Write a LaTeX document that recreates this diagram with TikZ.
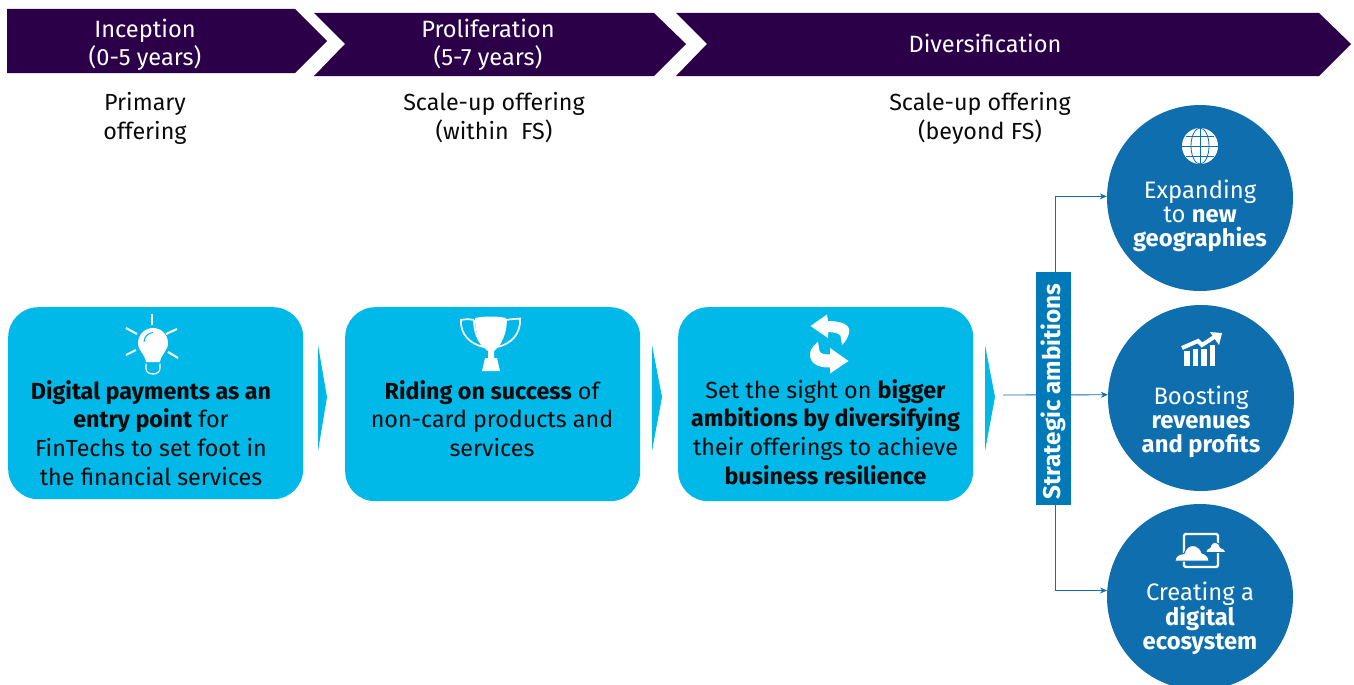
\documentclass[tikz,border=0pt]{standalone}
\usepackage{fontspec}
\setmainfont{Fira Sans}
\usetikzlibrary{arrows.meta}
\definecolor{purp}{HTML}{2B0049}
\definecolor{cyanb}{HTML}{00B9E9}
\definecolor{blueb}{HTML}{0F6FAE}
\definecolor{stratb}{HTML}{0079B8}
\definecolor{inkk}{HTML}{0A0A0A}
\tikzset{
  chev/.style={fill=purp,draw=none},
  hdr/.style={text=white,align=center,font=\fontsize{23.6}{28}\selectfont,inner sep=0pt},
  sub/.style={text=inkk,align=center,font=\fontsize{23.3}{29}\selectfont,inner sep=0pt},
  boxx/.style={fill=cyanb,rounded corners=30pt,minimum width=295pt,inner sep=0pt,anchor=north west},
  boxtxt/.style={text=inkk,align=center,font=\fontsize{23.3}{28.8}\selectfont,inner sep=0pt},
  tri/.style={fill=cyanb,draw=none},
  circ/.style={circle,fill=blueb,minimum size=186pt,inner sep=0pt},
  circtxt/.style={text=white,align=center,font=\fontsize{23.8}{24}\selectfont,inner sep=0pt},
  conn/.style={draw=blueb,line width=0.9pt},
  connar/.style={conn,-{Stealth[length=7pt,width=6pt]}},
  ray/.style={draw=white,line width=2pt},
  iconw/.style={fill=white,draw=none}
}
\begin{document}
\begin{tikzpicture}[x=1pt,y=-1pt]
\useasboundingbox (0,0) rectangle (1354,685);
% header chevrons
\fill[chev] (7,9) -- (295,9) -- (327,41) -- (295,73) -- (7,73) -- cycle;
\fill[chev] (314,13) -- (654,13) -- (686,44) -- (654,76) -- (314,76) -- (345,44) -- cycle;
\fill[chev] (676,13) -- (1319,13) -- (1351,44) -- (1319,76) -- (676,76) -- (707,44) -- cycle;
\node[hdr] (h1) at (145,44.5) {Inception\\(0-5 years)};
\node[hdr] (h2) at (488,44.5) {Proliferation\\(5-7 years)};
\node[hdr] (h3) at (985,43) {Diversification};
\node[sub] (s1) at (145,118) {Primary\\offering};
\node[sub] (s2) at (494,118) {Scale-up offering\\(within\ \ FS)};
\node[sub] (s3) at (980,118) {Scale-up offering\\(beyond FS)};
% stage boxes
\node[boxx,minimum height=192pt] (b1) at (8,307) {};
\node[boxx,minimum height=194pt] (b2) at (345,307) {};
\node[boxx,minimum height=194pt] (b3) at (678,307) {};
\node[boxtxt] (t1) at (151,433) {\textbf{Digital payments as an}\\\textbf{entry point} for\\FinTechs to set foot in\\the financial services};
\node[boxtxt] (t2) at (492,418.5) {\textbf{Riding on success} of\\non-card products and\\services};
\node[boxtxt] (t3) at (825.5,432) {Set the sight on \textbf{bigger}\\\textbf{ambitions by diversifying}\\their offerings to achieve\\\textbf{business resilience}};
% small triangles
\fill[tri] (318,345) -- (327,397) -- (318,451) -- cycle;
\fill[tri] (652,345) -- (662,397) -- (652,451) -- cycle;
\fill[tri] (985,345) -- (995,397) -- (985,451) -- cycle;
% circles
\node[circ] (c1) at (1200,198) {};
\node[circ] (c2) at (1201,398) {};
\node[circ] (c3) at (1200,597) {};
\node[circtxt] (ct1) at (1200,216) {Expanding\\to \textbf{new}\\\textbf{geographies}};
\node[circtxt] (ct2) at (1201,421.5) {Boosting\\\textbf{revenues}\\\textbf{and profits}};
\node[circtxt] (ct3) at (1200,618.5) {Creating a\\\textbf{digital}\\\textbf{ecosystem}};
% connectors
\coordinate (start) at (1003,395);
\draw[connar] (start) -- (c2.178);
\node[fill=stratb,minimum width=35pt,minimum height=233pt,inner sep=0pt] (strat) at (1053.5,388.5) {};
\node[rotate=90,text=white,font=\fontsize{24.2}{24}\selectfont\bfseries,inner sep=0pt] (stratt) at (1053.5,391.5) {Strategic ambitions};
\draw[connar] (strat.north) ++(1.5,0) |- (c1.179.4);
\draw[connar] (strat.south) ++(1.5,0) |- (c3.176);
% bulb icon
\draw[ray] (151.5,313.5) -- (151.5,325);
\draw[ray] (126,328) -- (137,334);
\draw[ray] (177,329) -- (166,334);
\draw[ray] (126,355) -- (136,350);
\draw[ray] (178,358) -- (168,352);
\fill[iconw] (138,343) arc[start angle=180,end angle=360,radius=15] .. controls (168,351) and (161,354) .. (160,362) -- (146,362) .. controls (145,354) and (138,351) .. (138,343) -- cycle;
\draw[white,line width=1.2pt] (146,363.5) -- (146,368) .. controls (146,372) and (149,374) .. (153,374) .. controls (157,374) and (160,372) .. (160,368) -- (160,363.5);
\draw[cyanb,line width=1pt] (144,342) .. controls (144,337) and (148,333) .. (153,332.5);
% trophy icon
\fill[iconw] (475,318) .. controls (485,316) and (497,316) .. (506,318) .. controls (506,333) and (501,346) .. (494,351) -- (494,358) -- (497,358) -- (500,371) -- (482,371) -- (485,358) -- (488,358) -- (488,351) .. controls (480,346) and (475,333) .. (475,318) -- cycle;
\draw[white,line width=1.7pt] (474,320) .. controls (470,319) and (465,319) .. (461,320) .. controls (460,333) and (469,344) .. (484,347);
\draw[white,line width=1.7pt] (474,320) .. controls (474,330) and (477,340) .. (484,347);
\draw[white,line width=1.7pt] (506,320) .. controls (511,319) and (516,319) .. (520,318.5) .. controls (521,333) and (512,344) .. (497,347);
\draw[white,line width=1.7pt] (506,320) .. controls (506,330) and (503,340) .. (497,347);
% refresh icon
\fill[iconw] (810.5,326) -- (827,314.5) -- (828,321) .. controls (842,321) and (851,325) .. (849,333) .. controls (848,338) and (845,342) .. (842,345) -- (840.5,336) .. controls (839,333) and (835,332.5) .. (828,332) -- (828,338) -- cycle;
\fill[iconw] (848.5,361) -- (830,373.5) -- (830,367.5) .. controls (818,368) and (809,363) .. (810,353) .. controls (811,348) and (815,344) .. (818,342) -- (819.5,351) .. controls (820.5,354) and (825,354.5) .. (830,354.5) -- (830,348) -- cycle;
% globe icon
\fill[iconw] (1200,146) circle[radius=18];
\draw[blueb,line width=0.8pt] (1200,128) -- (1200,164);
\draw[blueb,line width=0.8pt] (1200,146) ellipse[x radius=9,y radius=18];
\draw[blueb,line width=0.8pt] (1182,146) -- (1218,146);
\draw[blueb,line width=0.8pt] (1186,136) -- (1214,136);
\draw[blueb,line width=0.8pt] (1186,156) -- (1214,156);
% chart icon
\fill[iconw] (1184,351) rectangle (1189.5,366);
\fill[iconw] (1192.5,349) rectangle (1198,366);
\fill[iconw] (1201,349) rectangle (1206.5,366);
\fill[iconw] (1209.5,345) rectangle (1214.5,366);
\draw[blueb,line width=1.2pt] (1181,351.5) -- (1198,344.5) -- (1202,348.5) -- (1215,340.5);
\draw[white,line width=4pt] (1182,348) -- (1198,341) -- (1202,345) -- (1215,336.5);
\fill[iconw] (1222,333) -- (1210,332) -- (1219,345) -- cycle;
% cloud icon
\draw[white,line width=2.4pt,rounded corners=1.5pt] (1184,534) rectangle (1218,567);
\fill[iconw,draw=blueb,line width=1pt] (1175,561) .. controls (1175,556) and (1179,554) .. (1184,553.5) .. controls (1186,547) and (1190,545.5) .. (1193,545.5) .. controls (1197,545.5) and (1201,549) .. (1202,553) .. controls (1206,554) and (1209,557) .. (1209,561) -- cycle;
\fill[iconw,draw=blueb,line width=1pt] (1205.5,552.5) .. controls (1206,549.5) and (1208,548) .. (1210,547.5) .. controls (1211,544) and (1213,542) .. (1215,542) .. controls (1218,542) and (1220,545) .. (1220.5,547.5) .. controls (1223,548) and (1226,550) .. (1226,552.5) -- cycle;
\end{tikzpicture}
\end{document}
